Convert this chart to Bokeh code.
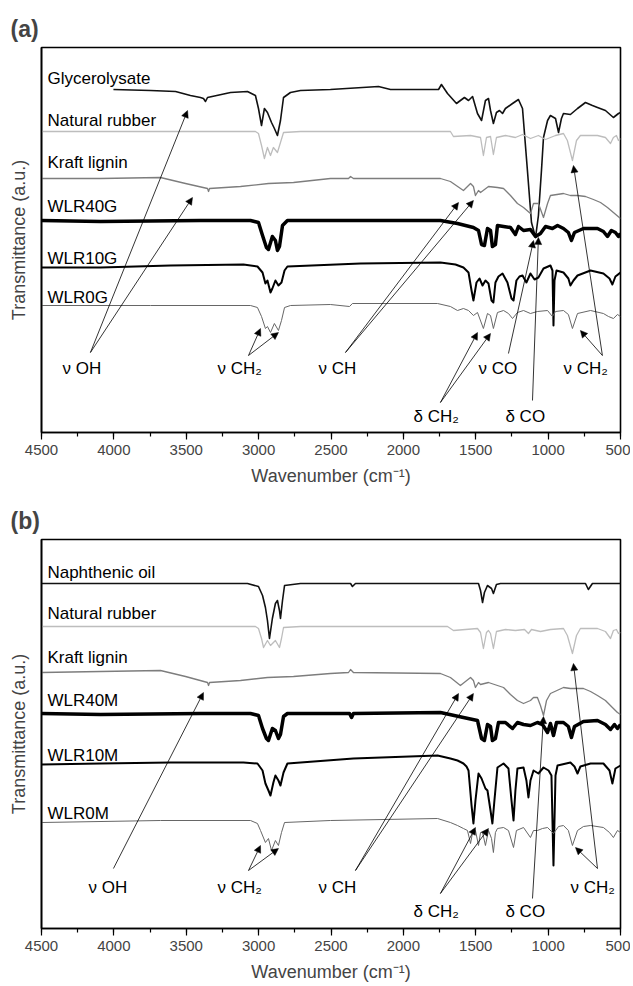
from bokeh.plotting import figure
from bokeh.models import Range1d, SingleIntervalTicker, FixedTicker, Arrow, NormalHead, ColumnDataSource
from bokeh.layouts import column
from bokeh.embed import file_html
from bokeh.resources import INLINE
from bokeh.core.properties import value

FONT = "Liberation Sans"

# ---------------- Panel (a) spectra: (wavenumber cm-1, transmittance a.u. offset-stacked) -------------
glycerolysate = [(4003,343),(3747,342),(3574,341),(3471,337),(3402,335),(3381,334),(3367,331),(3353,335),(3194,340),
    (3077,341),(3022,337),(3001,324),(2980,307),(2960,324),(2939,320),(2911,310),(2891,304),(2870,297),(2849,312),
    (2828,335),(2780,340),(2711,342),(2504,343),(2172,346),(2089,343),(1757,343),(1737,348),(1695,339),(1633,329),
    (1606,332),(1578,335),(1550,332),(1522,336),(1488,319),(1460,312),(1433,332),(1412,334),(1398,322),(1378,309),
    (1357,320),(1336,322),(1315,319),(1295,324),(1246,329),(1205,333),(1177,324),(1143,262),(1115,210),(1087,195),
    (1067,217),(1046,262),(1032,295),(1004,312),(984,317),(949,314),(928,300),(908,314),(894,319),(846,318),
    (797,324),(742,330),(694,327),(659,325),(604,322),(549,315),(514,319),(500,320)]
natural_rubber_a = [(4500,301),(3747,301),(3022,301),(3001,299),(2980,287),(2960,274),(2939,285),(2918,277),
    (2898,285),(2870,280),(2849,290),(2828,300),(2711,301),(1675,301),(1654,296),(1536,297),(1467,295),(1447,277),
    (1426,295),(1398,296),(1378,278),(1357,295),(1295,297),(1226,295),(1177,298),(1122,294),(1067,297),(1018,293),
    (949,297),(894,299),(867,292),(832,272),(804,292),(777,297),(659,297),(604,295),(569,289),(549,295),(528,297),
    (514,292),(500,294)]
kraft_lignin_a = [(4500,254),(4092,254),(3678,255),(3505,249),(3353,244),(3346,241),(3339,244),(3125,246),
    (2932,249),(2759,250),(2504,254),(2379,254),(2365,256),(2345,254),(1744,254),(1675,251),(1585,242),(1536,249),
    (1516,246),(1502,237),(1481,242),(1467,240),(1412,246),(1350,245),(1308,244),(1260,237),(1212,229),(1170,225),
    (1122,219),(1101,229),(1067,229),(1032,215),(1004,229),(984,237),(894,239),(846,237),(797,237),(742,236),
    (687,233),(638,230),(590,225),(549,220),(500,214)]
wlr40g = [(4500,212),(4092,211),(3402,212),(3056,212),(3001,210),(2973,197),(2946,185),(2932,183),(2905,196),
    (2884,192),(2870,182),(2856,186),(2835,207),(2801,212),(2365,212),(1744,212),(1626,209),(1516,205),(1481,202),
    (1460,188),(1440,187),(1419,204),(1398,202),(1385,186),(1364,188),(1350,207),(1308,206),(1260,205),(1226,198),
    (1205,206),(1170,202),(1122,203),(1087,196),(1053,199),(1018,206),(970,204),(935,207),(894,204),(860,200),
    (839,192),(818,200),(756,204),(659,204),(618,201),(590,196),(563,202),(535,200),(514,196),(500,199)]
wlr10g = [(4500,165),(4092,165),(3609,167),(3105,168),(3008,166),(2973,160),(2953,149),(2939,152),(2918,140),
    (2905,144),(2884,152),(2863,147),(2842,150),(2821,162),(2801,166),(2296,169),(1744,170),(1640,168),(1585,165),
    (1550,160),(1529,142),(1516,132),(1495,150),(1474,154),(1453,147),(1433,152),(1412,149),(1391,132),(1378,130),
    (1364,150),(1343,156),(1315,159),(1281,150),(1253,134),(1239,132),(1219,152),(1198,156),(1177,157),(1150,150),
    (1122,159),(1094,153),(1067,155),(1032,164),(984,167),(970,162),(963,107),(956,152),(942,162),(894,160),
    (860,154),(846,147),(825,152),(797,157),(707,162),(618,159),(576,154),(556,148),(535,156),(500,160)]
wlr0g = [(4500,127),(3747,127),(3056,127),(3008,125),(2980,116),(2953,104),(2939,106),(2918,100),(2891,109),
    (2863,102),(2842,112),(2821,125),(2780,127),(2504,128),(2372,126),(2352,129),(1764,129),(1675,126),(1626,122),
    (1585,124),(1550,122),(1516,117),(1488,120),(1447,104),(1419,119),(1398,117),(1378,104),(1350,120),(1308,122),
    (1274,119),(1246,114),(1212,120),(1170,122),(1122,119),(1074,121),(1004,122),(970,116),(949,121),(894,122),
    (860,118),(832,104),(797,119),(707,122),(618,119),(583,116),(549,114),(521,118),(500,116)]

# ---------------- Panel (b) spectra ----------------
naphthenic_oil = [(4500,345),(3077,345),(3001,342),(2973,333),(2953,321),(2939,308),(2925,290),(2905,310),
    (2884,325),(2870,328),(2856,318),(2849,310),(2835,328),(2821,343),(2711,345),(2365,345),(2352,342),(2331,345),
    (1481,345),(1467,338),(1453,326),(1440,336),(1419,343),(1391,340),(1378,335),(1357,344),(1329,345),(742,345),
    (722,339),(694,345),(500,345)]
natural_rubber_b = [(4500,302),(3022,302),(3001,300),(2980,290),(2966,281),(2939,288),(2918,283),(2884,288),
    (2856,281),(2842,290),(2828,301),(2711,302),(1695,302),(1654,298),(1488,300),(1467,296),(1447,280),(1426,296),
    (1412,298),(1398,295),(1378,280),(1357,297),(1295,299),(1226,298),(1163,299),(1136,295),(1115,299),(1053,297),
    (984,299),(894,300),(867,293),(832,275),(804,293),(777,300),(659,300),(604,297),(569,290),(549,298),(528,299),
    (514,295),(500,296)]
kraft_lignin_b = [(4500,256),(4092,257),(3678,258),(3505,252),(3353,246),(3346,243),(3339,246),(3125,248),
    (2939,251),(2759,252),(2504,255),(2379,256),(2365,259),(2345,256),(1744,255),(1675,251),(1606,243),(1536,251),
    (1516,248),(1502,241),(1481,246),(1467,244),(1412,246),(1350,243),(1308,241),(1260,234),(1212,228),(1170,225),
    (1122,228),(1101,231),(1074,231),(1053,223),(1032,213),(1011,228),(984,235),(894,241),(846,240),(756,240),
    (707,237),(659,233),(604,228),(556,221),(521,216),(500,214)]
wlr40m = [(4500,215),(4092,214),(3402,215),(3056,215),(3001,213),(2973,200),(2946,190),(2932,188),(2905,200),
    (2884,198),(2863,190),(2849,194),(2828,212),(2801,215),(2372,215),(2358,211),(2345,215),(1744,216),(1585,211),
    (1488,208),(1460,190),(1440,188),(1419,204),(1398,202),(1385,188),(1364,190),(1343,206),(1295,206),(1246,200),
    (1212,206),(1170,204),(1122,203),(1074,206),(1039,204),(1004,196),(984,205),(963,193),(942,206),(894,206),
    (860,202),(839,191),(818,202),(756,207),(659,208),(604,204),(569,199),(542,204),(521,200),(500,204)]
wlr10m = [(4500,164),(4092,165),(3609,166),(3105,166),(3008,165),(2973,158),(2953,145),(2932,138),(2918,133),
    (2898,146),(2884,153),(2863,148),(2849,143),(2828,156),(2801,165),(2345,170),(1764,173),(1675,170),(1626,168),
    (1585,165),(1564,162),(1550,158),(1529,123),(1516,105),(1502,128),(1481,155),(1460,150),(1433,140),(1419,138),
    (1398,118),(1385,105),(1371,128),(1350,161),(1308,165),(1274,160),(1253,128),(1239,108),(1226,138),(1212,160),
    (1170,161),(1150,148),(1136,131),(1122,148),(1101,158),(1067,155),(1032,161),(997,158),(977,153),(963,63),
    (949,153),(935,163),(846,166),(818,162),(797,155),(777,162),(707,165),(618,165),(576,158),(556,145),(535,160),
    (500,163)]
wlr0m = [(4500,106),(3678,108),(3056,108),(3008,105),(2987,98),(2953,86),(2932,90),(2911,78),(2884,88),(2863,83),
    (2842,96),(2821,106),(2504,108),(1764,110),(1675,106),(1626,103),(1585,100),(1557,98),(1536,85),(1522,96),
    (1502,98),(1481,83),(1467,96),(1453,96),(1433,83),(1412,98),(1391,90),(1378,76),(1364,96),(1350,100),
    (1308,101),(1274,98),(1239,81),(1219,98),(1170,101),(1122,91),(1101,98),(1074,98),(1039,100),(1004,101),
    (963,95),(928,102),(894,103),(860,98),(832,83),(797,98),(756,102),(707,103),(618,101),(576,96),(549,91),
    (521,98),(500,96)]

# ---------------- Labels ----------------
names_a = ["Glycerolysate", "Natural rubber", "Kraft lignin", "WLR40G", "WLR10G", "WLR0G"]
name_t_a = [354, 312, 270, 226, 174, 135]
names_b = ["Naphthenic oil", "Natural rubber", "Kraft lignin", "WLR40M", "WLR10M", "WLR0M"]
name_t_b = [356, 315, 271, 228, 173, 115]
name_wn = 4459

ann_a_text = ["\u03bd OH", "\u03bd CH\u2082", "\u03bd CH", "\u03bd CO", "\u03bd CH\u2082", "\u03b4 CH\u2082", "\u03b4 CO"]
ann_a_wn = [4355, 3284, 2587, 1481, 894, 1930, 1295]
ann_a_t = [64, 64, 64, 64, 64, 16, 16]
arrows_a = [(4162,80,3491,322),(4162,80,3457,235),(3070,77,2987,104),(3070,77,2863,100),
            (2400,80,1619,230),(2400,80,1516,232),(1274,79,1101,192),(625,77,777,102),(625,77,825,267),
            (1744,30,1488,100),(1744,30,1398,99),(1108,32,1067,195)]

ann_b_text = ["\u03bd OH", "\u03bd CH\u2082", "\u03bd CH", "\u03b4 CH\u2082", "\u03b4 CO", "\u03bd CH\u2082"]
ann_b_wn = [4175, 3284, 2587, 1930, 1295, 846]
ann_b_t = [41, 41, 41, 17, 17, 41]
arrows_b = [(4003,60,3381,236),(3070,58,2987,83),(3070,58,2863,80),(2331,58,1619,235),(2331,58,1516,235),
            (1744,35,1502,101),(1744,35,1412,100),(1108,30,1032,212),(659,60,811,81),(659,60,825,265)]

styles = [("#111111", 1.6), ("#bdbdbd", 1.3), ("#7d7d7d", 1.3), ("#000000", 3.5), ("#000000", 2.0), ("#666666", 1.0)]


def make_panel(tag, series, names, name_t, ann_text, ann_wn, ann_t, arrows, height, top, bottom, yspan):
    p = figure(width=630, height=height, output_backend="svg", toolbar_location=None,
               x_range=Range1d(4500, 500), y_range=Range1d(0, yspan),
               min_border_left=41, min_border_right=10, min_border_top=top, min_border_bottom=bottom)
    p.grid.visible = False
    p.outline_line_color = "black"
    p.outline_line_width = 1.6
    p.background_fill_color = "white"

    p.title.text = tag
    p.title.align = "left"
    p.title.offset = -31
    p.title.standoff = 12
    p.title.text_font = FONT
    p.title.text_font_size = "23px"
    p.title.text_font_style = "bold"

    for s, (c, w) in zip(series, styles):
        xs = [a for a, b in s]
        ys = [b for a, b in s]
        p.line(xs, ys, line_color=c, line_width=w, line_join="round")

    p.text(x=[name_wn] * len(names), y=name_t, text=names, text_font=value(FONT), text_font_size="17px",
           text_baseline="alphabetic", text_align="left", text_color="black")
    p.text(x=ann_wn, y=ann_t, text=ann_text, text_font=value(FONT), text_font_size="17px",
           text_baseline="alphabetic", text_align="left", text_color="black")

    src = ColumnDataSource(dict(x0=[a[0] for a in arrows], y0=[a[1] for a in arrows],
                                x1=[a[2] for a in arrows], y1=[a[3] for a in arrows]))
    p.add_layout(Arrow(end=NormalHead(size=7, fill_color="black", line_color="black", line_width=0.5),
                       x_start="x0", y_start="y0", x_end="x1", y_end="y1", source=src,
                       line_color="black", line_width=0.8))

    ax = p.xaxis[0]
    ax.ticker = SingleIntervalTicker(interval=500, num_minor_ticks=2)
    ax.axis_label = "Wavenumber (cm\u207b\u00b9)"
    ax.axis_label_text_font = FONT
    ax.axis_label_text_font_size = "18px"
    ax.axis_label_text_font_style = "normal"
    ax.axis_label_standoff = 8
    ax.major_label_text_font = FONT
    ax.major_label_text_font_size = "15px"
    ax.major_label_standoff = 5
    ax.major_tick_out = 7
    ax.major_tick_in = 0
    ax.minor_tick_out = 4
    ax.minor_tick_in = 0
    ax.axis_line_width = 1.6
    ax.major_tick_line_width = 1.2
    ax.minor_tick_line_width = 1.2

    ay = p.yaxis[0]
    ay.ticker = FixedTicker(ticks=[])
    ay.major_tick_out = 0
    ay.minor_tick_out = 0
    ay.major_label_standoff = 0
    ay.axis_label = "Transmittance (a.u.)"
    ay.axis_label_text_font = FONT
    ay.axis_label_text_font_size = "18px"
    ay.axis_label_text_font_style = "normal"
    ay.axis_label_standoff = 13
    ay.axis_line_width = 1.6
    return p


pa = make_panel("(a)", [glycerolysate, natural_rubber_a, kraft_lignin_a, wlr40g, wlr10g, wlr0g],
                names_a, name_t_a, ann_a_text, ann_a_wn, ann_a_t, arrows_a, 490, 47, 58, 385)
pb = make_panel("(b)", [naphthenic_oil, natural_rubber_b, kraft_lignin_b, wlr40m, wlr10m, wlr0m],
                names_b, name_t_b, ann_b_text, ann_b_wn, ann_b_t, arrows_b, 496, 49, 58, 389)

layout = column(pa, pb, spacing=0)
open("out.html", "w").write(file_html(layout, INLINE))
